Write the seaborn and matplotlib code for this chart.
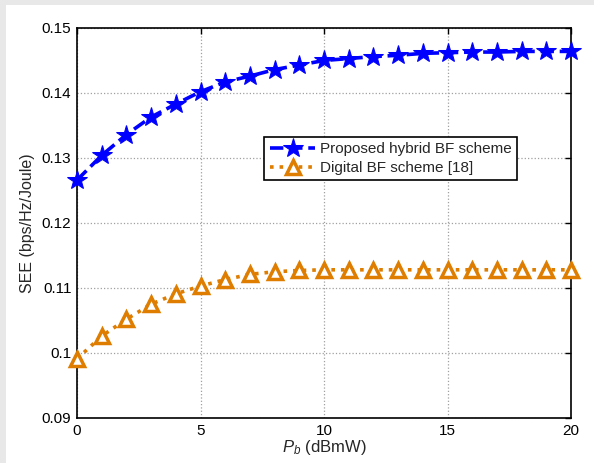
import numpy as np
import pandas as pd
import matplotlib
matplotlib.use('Agg')
import matplotlib.pyplot as plt
import seaborn as sns
from matplotlib.patches import Rectangle

# Data
pb_dbmw = list(range(0, 21))
see_hybrid = [0.1266, 0.1304, 0.1336, 0.1363, 0.1383, 0.1402, 0.1417, 0.1426,
              0.1436, 0.1443, 0.1450, 0.1453, 0.1456, 0.1458, 0.1461, 0.1462,
              0.1463, 0.1463, 0.1464, 0.1464, 0.1464]
see_digital = [0.0991, 0.1026, 0.1052, 0.1075, 0.1091, 0.1103, 0.1113, 0.1121,
               0.1125, 0.1127, 0.1128, 0.1128, 0.1128, 0.1128, 0.1128, 0.1128,
               0.1128, 0.1128, 0.1128, 0.1128, 0.1128]
x_ticks = [0, 5, 10, 15, 20]
y_ticks = [0.09, 0.1, 0.11, 0.12, 0.13, 0.14, 0.15]
y_tick_labels = ['0.09', '0.1', '0.11', '0.12', '0.13', '0.14', '0.15']

sns.set_style('white')
plt.rcParams['font.family'] = ['Liberation Sans', 'DejaVu Sans']
plt.rcParams['mathtext.fontset'] = 'custom'
plt.rcParams['mathtext.rm'] = 'Liberation Sans'
plt.rcParams['mathtext.it'] = 'Liberation Sans:italic'

df = pd.DataFrame({'pb': pb_dbmw, 'hybrid': see_hybrid, 'digital': see_digital})

fig = plt.figure(figsize=(5.94, 4.63), dpi=100, facecolor='#e8e8e8')
fig.patches.append(Rectangle((6 / 594, 0), 1, 1 - 5 / 463, transform=fig.transFigure,
                             facecolor='white', edgecolor='none', zorder=-10))
ax = fig.add_axes([77 / 594, 1 - 418 / 463, 494 / 594, 390 / 463])

blue = '#0000ff'
orange = '#de7d00'

sns.lineplot(data=df, x='pb', y='hybrid', ax=ax, color=blue, linestyle='--',
             linewidth=2.6, marker='*', markersize=15, markeredgecolor=blue,
             label='Proposed hybrid BF scheme', clip_on=False, zorder=5)
sns.lineplot(data=df, x='pb', y='digital', ax=ax, color=orange, linestyle=':',
             linewidth=2.6, marker='^', markersize=9.5, markerfacecolor='white',
             markeredgecolor=orange, markeredgewidth=2.5,
             label='Digital BF scheme [18]', clip_on=False, zorder=5)

ax.set_xlim(0, 20)
ax.set_ylim(0.09, 0.15)
ax.set_xticks(x_ticks)
ax.set_yticks(y_ticks)
ax.set_yticklabels(y_tick_labels)
ax.tick_params(direction='in', length=4, width=1, top=True, right=True,
               labelsize=11, colors='black', pad=4)
ax.grid(True, linestyle=':', color='#a0a0a0', linewidth=0.9)
for s in ax.spines.values():
    s.set_color('black')
    s.set_linewidth(1.2)

ax.set_xlabel(r'$P_b$ (dBmW)', fontsize=12, labelpad=0)
ax.set_ylabel('SEE (bps/Hz/Joule)', fontsize=11.5, labelpad=5)

leg = ax.legend(loc='upper right', bbox_to_anchor=(0.891, 0.7205), borderaxespad=0,
                fontsize=11, frameon=True, fancybox=False, edgecolor='black',
                framealpha=1, handlelength=3, handletextpad=0.3, borderpad=0.35,
                labelspacing=0.3)
leg.get_frame().set_linewidth(1.2)

fig.savefig('out.png', dpi=100, facecolor=fig.get_facecolor())
